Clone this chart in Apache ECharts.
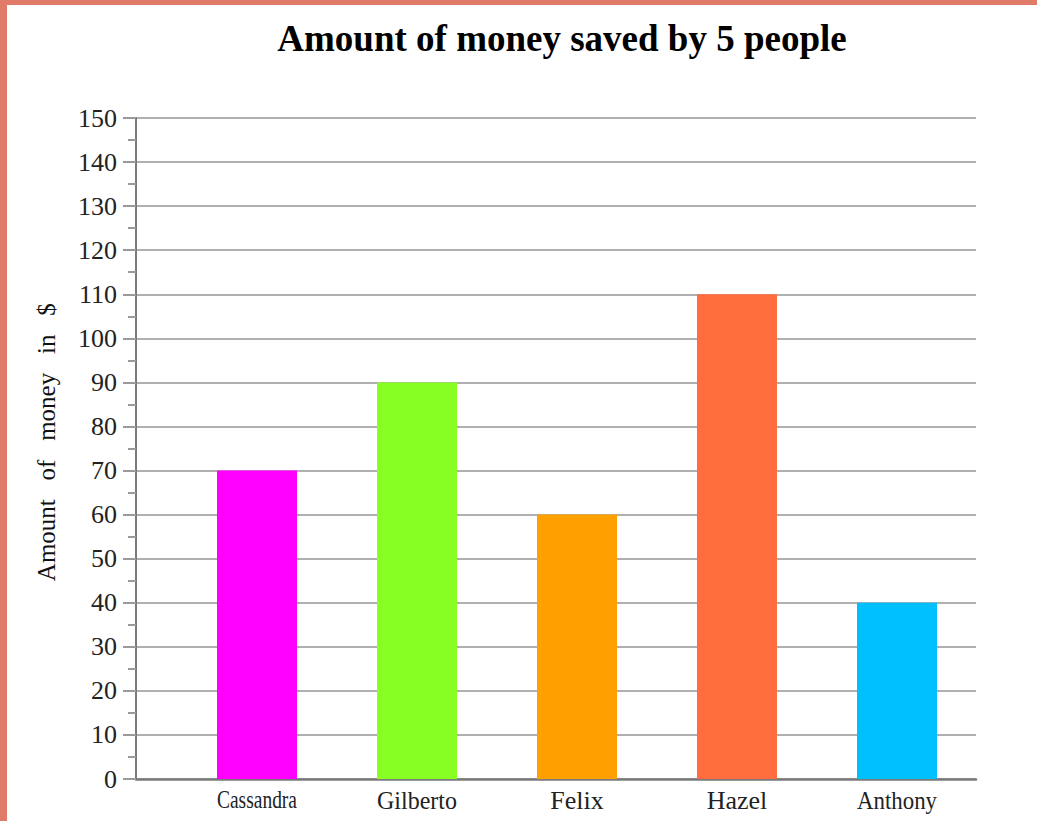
<!DOCTYPE html>
<html><head><meta charset="utf-8">
<script src="https://cdn.jsdelivr.net/npm/echarts@6/dist/echarts.min.js"></script>
<style>html,body{margin:0;padding:0;background:#fff;overflow:hidden}#c{width:1037px;height:821px}</style>
</head><body><div id="c"></div>
<script>
const titleText = 'Amount of money saved by 5 people';
const yAxisName = 'Amount of money in $';
const categories = ['Cassandra', 'Gilberto', 'Felix', 'Hazel', 'Anthony'];
const savings = [70, 90, 60, 110, 40];
const yMin = 0, yMax = 150, yInterval = 10;
const barColors = ['#FF00FF', '#88FF22', '#FFA000', '#FF6E3C', '#00BFFF'];

const serif = '"Liberation Serif", "Times New Roman", serif';
const chart = echarts.init(document.getElementById('c'), null, {renderer: 'svg'});

const option = {
  backgroundColor: '#fff',
  animation: false,
  title: {
    text: titleText, left: 557, top: 15, textAlign: 'center',
    textStyle: {fontFamily: serif, fontSize: 37, fontWeight: 'bold', color: '#000'}
  },
  grid: [
    {left: 136, right: 61, top: 118, bottom: 42},
    {left: 177, right: 60, top: 118, bottom: 42}
  ],
  xAxis: [
    {gridIndex: 0, type: 'value', min: 0, max: 1,
      axisLine: {show: true, onZero: false, lineStyle: {color: '#7a7a7a', width: 2.5}},
      axisTick: {show: false}, axisLabel: {show: false}, splitLine: {show: false}},
    {gridIndex: 1, type: 'category', data: categories, boundaryGap: true,
      axisLine: {show: false}, axisTick: {show: false}, axisLabel: {show: false}}
  ],
  yAxis: [
    {gridIndex: 0, type: 'value', min: yMin, max: yMax, interval: yInterval,
      name: '\u00a0\u00a0' + yAxisName.split(' ').join('\u00a0\u00a0\u00a0'),
      nameLocation: 'middle', nameGap: 77,
      nameTextStyle: {fontFamily: serif, fontSize: 25, color: '#111'},
      axisLine: {show: true, lineStyle: {color: '#7a7a7a', width: 2}},
      axisTick: {show: true, length: 13, lineStyle: {color: '#9a9a9a', width: 2}},
      minorTick: {show: true, splitNumber: 2, length: 8, lineStyle: {color: '#9a9a9a', width: 2}},
      axisLabel: {fontFamily: serif, fontSize: 26, color: '#222', margin: 19},
      splitLine: {show: true, lineStyle: {color: '#b0b0b0', width: 2}}},
    {gridIndex: 1, type: 'value', min: yMin, max: yMax, interval: yInterval, show: false}
  ],
  series: [{
    type: 'bar', xAxisIndex: 1, yAxisIndex: 1, data: savings, barWidth: 80,
    itemStyle: {color: p => barColors[p.dataIndex]}
  }],
  graphic: [
    {type: 'rect', left: 0, top: 0, shape: {width: 1037, height: 5}, style: {fill: '#E07B6A'}, z: 100},
    {type: 'rect', left: 0, top: 0, shape: {width: 7, height: 821}, style: {fill: '#E07B6A'}, z: 100}
  ]
};
chart.setOption(option);

// category labels, compressed to bar width where too long (as in reference)
const ctx = document.createElement('canvas').getContext('2d');
const labelFont = '26px ' + serif;
ctx.font = labelFont;
const baseY = chart.convertToPixel({yAxisIndex: 1}, 0);
const labelEls = categories.map((cat, i) => {
  const x = chart.convertToPixel({xAxisIndex: 1}, cat);
  const w = ctx.measureText(cat).width;
  return {
    type: 'text', x: x, y: baseY + 21, scaleX: Math.min(1, 80 / w),
    style: {text: cat, font: labelFont, fill: '#222', textAlign: 'center', textVerticalAlign: 'middle'}
  };
});
chart.setOption({graphic: option.graphic.concat(labelEls)});
</script></body></html>
